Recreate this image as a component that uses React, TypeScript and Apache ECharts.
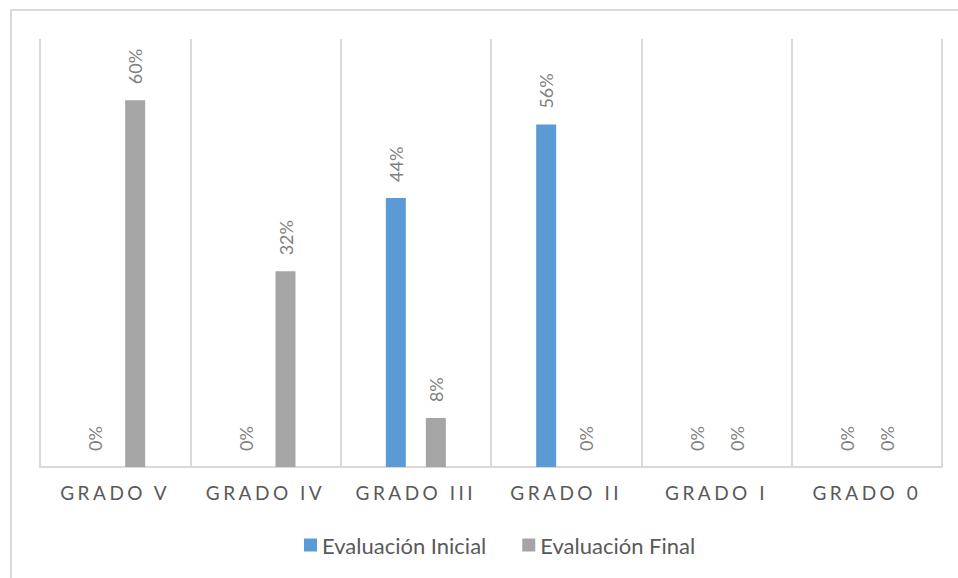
import React, { useEffect, useRef } from "react";
import * as echarts from "echarts";

const categories = ["GRADO V", "GRADO IV", "GRADO III", "GRADO II", "GRADO I", "GRADO 0"];
const inicialValues = [0, 0, 44, 56, 0, 0];
const finalValues = [60, 32, 8, 0, 0, 0];
const seriesNames = ["Evaluación Inicial", "Evaluación Final"];

const FONT = "Lato, 'Noto Sans', sans-serif";
const AXIS_LABEL_COLOR = "#595958";

export default function App() {
  const ref = useRef<HTMLDivElement>(null);

  useEffect(() => {
    if (!ref.current) return;
    const chart = echarts.init(ref.current, undefined, { renderer: "svg" });

    const barLabel = {
      show: true,
      position: "top" as const,
      rotate: 90,
      align: "left" as const,
      verticalAlign: "middle" as const,
      distance: 16,
      color: "#7f7f7f",
      fontSize: 18,
      fontFamily: FONT,
      formatter: (p: any) => `${p.value}%`,
    };

    chart.setOption({
      animation: false,
      backgroundColor: "#ffffff",
      textStyle: { fontFamily: FONT },
      graphic: [
        {
          type: "rect",
          shape: { x: 11, y: 10, width: 1000, height: 1000 },
          style: { fill: "none", stroke: "#d9d9d9", lineWidth: 2 },
          silent: true,
        },
      ],
      grid: { left: 40, right: 16, top: 39, bottom: 111 },
      legend: {
        bottom: 17,
        left: 299,
        icon: "rect",
        itemWidth: 13,
        itemHeight: 13,
        itemGap: 36,
        textStyle: { color: "#595959", fontSize: 22, fontFamily: FONT },
        data: seriesNames,
      },
      xAxis: {
        type: "category",
        data: categories,
        boundaryGap: true,
        axisLine: { show: true, lineStyle: { color: "#d9d9d9", width: 2 } },
        axisTick: { show: false },
        splitLine: { show: true, lineStyle: { color: "#d9d9d9", width: 2 } },
        axisLabel: {
          color: AXIS_LABEL_COLOR,
          fontSize: 19,
          fontFamily: FONT,
          margin: 16,
        },
      },
      yAxis: {
        type: "value",
        min: 0,
        max: 70,
        interval: 10,
        axisLine: { show: false },
        axisTick: { show: false },
        axisLabel: { show: false },
        splitLine: { show: false },
      },
      series: [
        {
          name: seriesNames[0],
          type: "bar",
          data: inicialValues,
          barWidth: 20,
          barGap: "100%",
          itemStyle: { color: "#5b9bd5" },
          label: barLabel,
        },
        {
          name: seriesNames[1],
          type: "bar",
          data: finalValues,
          barWidth: 20,
          barGap: "100%",
          itemStyle: { color: "#a5a5a5" },
          label: barLabel,
        },
      ],
    });

    return () => chart.dispose();
  }, []);

  return (
    <>
      <style>{`#chart-box text[fill="${AXIS_LABEL_COLOR}"] { letter-spacing: 3.5px; }`}</style>
      <div
        id="chart-box"
        ref={ref}
        style={{ position: "fixed", left: 0, top: 0, width: 958, height: 578 }}
      />
    </>
  );
}
